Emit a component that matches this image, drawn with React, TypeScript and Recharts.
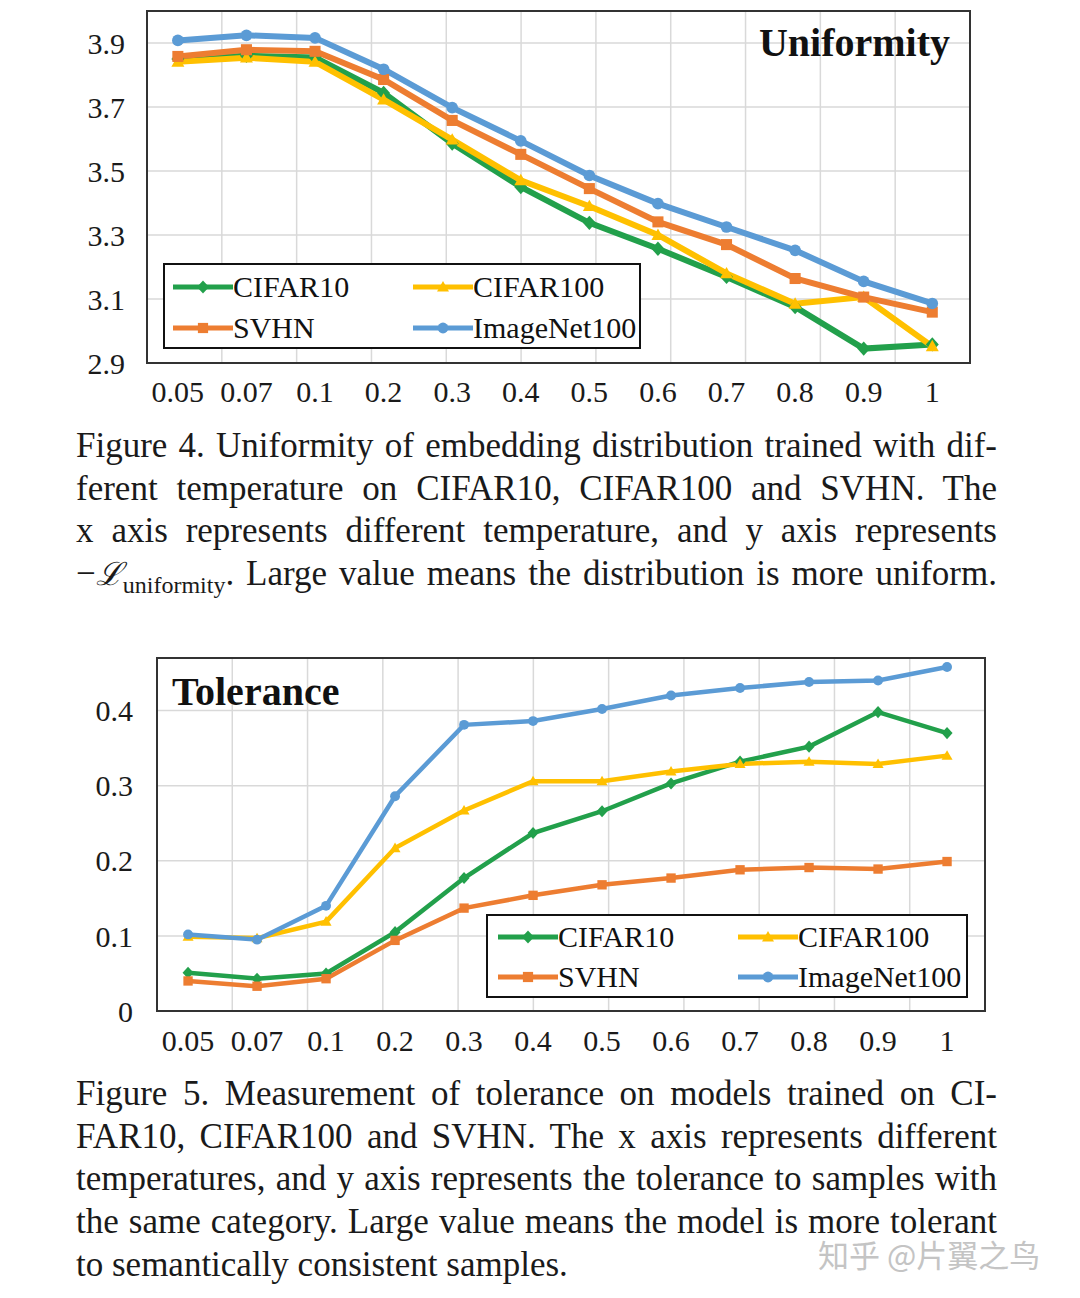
import React from 'react';
import {
  LineChart,
  Line,
  XAxis,
  YAxis,
  CartesianGrid,
  Legend,
  ReferenceArea,
  Customized,
} from 'recharts';

const FONT = '"Liberation Serif", "Times New Roman", Times, serif';

// ---------- data ----------
const temps = ['0.05', '0.07', '0.1', '0.2', '0.3', '0.4', '0.5', '0.6', '0.7', '0.8', '0.9', '1'];

const uniCifar10 = [3.85, 3.86, 3.855, 3.744, 3.586, 3.45, 3.338, 3.257, 3.169, 3.075, 2.945, 2.958];
const uniCifar100 = [3.841, 3.854, 3.841, 3.723, 3.598, 3.471, 3.39, 3.3, 3.18, 3.085, 3.106, 2.952];
const uniSvhn = [3.858, 3.879, 3.874, 3.786, 3.658, 3.552, 3.445, 3.341, 3.27, 3.164, 3.106, 3.059];
const uniImageNet = [3.908, 3.924, 3.916, 3.818, 3.698, 3.594, 3.486, 3.398, 3.325, 3.252, 3.155, 3.086];

const tolCifar10 = [0.051, 0.043, 0.05, 0.105, 0.177, 0.237, 0.266, 0.303, 0.332, 0.352, 0.398, 0.37];
const tolCifar100 = [0.099, 0.097, 0.119, 0.217, 0.267, 0.306, 0.306, 0.319, 0.329, 0.332, 0.329, 0.34];
const tolSvhn = [0.04, 0.033, 0.043, 0.094, 0.137, 0.154, 0.168, 0.177, 0.188, 0.191, 0.189, 0.199];
const tolImageNet = [0.102, 0.095, 0.14, 0.286, 0.381, 0.386, 0.402, 0.42, 0.43, 0.438, 0.44, 0.458];

const uniTicks = [2.9, 3.1, 3.3, 3.5, 3.7, 3.9];
const tolTicks = [0, 0.1, 0.2, 0.3, 0.4];

type MarkerKind = 'diamond' | 'square' | 'triangle' | 'circle';
const SERIES: { key: string; color: string; marker: MarkerKind }[] = [
  { key: 'CIFAR10', color: '#22a04b', marker: 'diamond' },
  { key: 'CIFAR100', color: '#ffc000', marker: 'triangle' },
  { key: 'SVHN', color: '#ed7d31', marker: 'square' },
  { key: 'ImageNet100', color: '#5b9bd5', marker: 'circle' },
];
const LEGEND_ORDER = ['CIFAR10', 'CIFAR100', 'SVHN', 'ImageNet100'];

const buildRows = (c10: number[], c100: number[], svhn: number[], inet: number[]) =>
  temps.map((t, i) => ({
    idx: i,
    temp: t,
    CIFAR10: c10[i],
    CIFAR100: c100[i],
    SVHN: svhn[i],
    ImageNet100: inet[i],
  }));

const uniRows = buildRows(uniCifar10, uniCifar100, uniSvhn, uniImageNet);
const tolRows = buildRows(tolCifar10, tolCifar100, tolSvhn, tolImageNet);

// ---------- markers ----------
function markerShape(kind: MarkerKind, cx: number, cy: number, s: number, color: string) {
  switch (kind) {
    case 'diamond':
      return <path d={`M${cx},${cy - s * 1.1} L${cx + s},${cy} L${cx},${cy + s * 1.1} L${cx - s},${cy} Z`} fill={color} />;
    case 'square':
      return <rect x={cx - s * 0.85} y={cy - s * 0.85} width={s * 1.7} height={s * 1.7} fill={color} />;
    case 'triangle':
      return <path d={`M${cx},${cy - s} L${cx + s},${cy + s * 0.75} L${cx - s},${cy + s * 0.75} Z`} fill={color} />;
    default:
      return <circle cx={cx} cy={cy} r={s * 0.9} fill={color} />;
  }
}

const makeDot = (kind: MarkerKind, color: string, size: number) => (props: any) => {
  const { cx, cy, index } = props;
  if (cx == null || cy == null) return <g key={`e-${index}`} />;
  return <g key={`d-${kind}-${index}`}>{markerShape(kind, cx, cy, size, color)}</g>;
};

// ---------- legend ----------
const makeLegend = (w: number, h: number, rowH: number, padTop: number, padLeft: number) => (props: any) => {
  const payload: any[] = props.payload || [];
  const names = payload.map((p: any) => String(p.value));
  const ordered = LEGEND_ORDER.filter((n) => names.includes(n));
  return (
    <div
      style={{
        width: w,
        height: h,
        boxSizing: 'border-box',
        border: '2px solid #111',
        background: '#fff',
        display: 'grid',
        gridTemplateColumns: '240px 240px',
        gridAutoRows: `${rowH}px`,
        alignItems: 'center',
        paddingTop: padTop,
        paddingLeft: padLeft,
        fontFamily: FONT,
        fontSize: 30,
        color: '#111',
      }}
    >
      {ordered.map((name) => {
        const s = SERIES.find((x) => x.key === name) || SERIES[0];
        return (
          <div key={s.key} style={{ display: 'flex', alignItems: 'center', lineHeight: 1 }}>
            <svg width={60} height={24} style={{ display: 'block' }}>
              <line x1={0} y1={12} x2={60} y2={12} stroke={s.color} strokeWidth={5} />
              {markerShape(s.marker, 30, 12, 6, s.color)}
            </svg>
            <span>{s.key}</span>
          </div>
        );
      })}
    </div>
  );
};

// ---------- chart panel ----------
type PanelProps = {
  rows: any[];
  height: number;
  margin: { top: number; right: number; bottom: number; left: number };
  yDomain: [number, number];
  yTicks: number[];
  yFmt: (v: number) => string;
  xAxisHeight: number;
  xTickMargin: number;
  yTickMargin: number;
  lineWidth: number;
  markSize: number;
  legendPos: { left: number; top: number; width: number; height: number; rowH: number; padTop: number; padLeft: number };
  title: { text: string; x: number; y: number; anchor: 'start' | 'end' };
};

function Panel(p: PanelProps) {
  const tickStyle = { fontSize: 30, fontFamily: FONT, fill: '#1a1a1a' };
  return (
    <LineChart width={1080} height={p.height} data={p.rows} margin={p.margin}>
      <XAxis
        xAxisId="main"
        dataKey="idx"
        type="number"
        domain={[-0.45, 11.55]}
        ticks={temps.map((_, i) => i)}
        tickFormatter={(v: number) => temps[v] ?? ''}
        interval={0}
        allowDataOverflow
        axisLine={false}
        tickLine={false}
        tickSize={0}
        tickMargin={p.xTickMargin}
        height={p.xAxisHeight}
        tick={tickStyle}
      />
      <XAxis
        xAxisId="grid"
        type="number"
        domain={[0, 12]}
        ticks={[1, 2, 3, 4, 5, 6, 7, 8, 9, 10, 11]}
        allowDataOverflow
        height={0}
        hide
      />
      <YAxis
        yAxisId="y"
        type="number"
        domain={p.yDomain}
        ticks={p.yTicks}
        tickFormatter={p.yFmt}
        allowDataOverflow
        axisLine={false}
        tickLine={false}
        tickSize={0}
        tickMargin={p.yTickMargin}
        width={60}
        tick={tickStyle}
      />
      <CartesianGrid xAxisId="grid" yAxisId="y" stroke="#d9d9d9" strokeWidth={1.5} />
      <ReferenceArea
        xAxisId="main"
        yAxisId="y"
        x1={-0.45}
        x2={11.55}
        y1={p.yDomain[0]}
        y2={p.yDomain[1]}
        fill="none"
        fillOpacity={0}
        stroke="#333"
        strokeWidth={2}
        ifOverflow="visible"
      />
      {SERIES.map((s) => (
        <Line
          key={s.key}
          xAxisId="main"
          yAxisId="y"
          type="linear"
          dataKey={s.key}
          name={s.key}
          stroke={s.color}
          strokeWidth={p.lineWidth}
          dot={makeDot(s.marker, s.color, p.markSize)}
          activeDot={false}
          isAnimationActive={false}
        />
      ))}
      <Legend
        layout="vertical"
        align="center"
        verticalAlign="middle"
        itemSorter={null as any}
        content={makeLegend(p.legendPos.width, p.legendPos.height, p.legendPos.rowH, p.legendPos.padTop, p.legendPos.padLeft)}
        wrapperStyle={{
          left: p.legendPos.left,
          top: p.legendPos.top,
          width: p.legendPos.width,
          height: p.legendPos.height,
        }}
      />
      <Customized
        component={() => (
          <text
            x={p.title.x}
            y={p.title.y}
            textAnchor={p.title.anchor}
            fontFamily={FONT}
            fontWeight="bold"
            fontSize={40}
            fill="#111"
          >
            {p.title.text}
          </text>
        )}
      />
    </LineChart>
  );
}

// ---------- captions ----------
const cap4Lines = [
  'Figure 4. Uniformity of embedding distribution trained with dif-',
  'ferent temperature on CIFAR10, CIFAR100 and SVHN. The',
  'x axis represents different temperature, and y axis represents',
];
const cap5Lines = [
  'Figure 5. Measurement of tolerance on models trained on CI-',
  'FAR10, CIFAR100 and SVHN. The x axis represents different',
  'temperatures, and y axis represents the tolerance to samples with',
  'the same category. Large value means the model is more tolerant',
];
const cap5Last = 'to semantically consistent samples.';

const lineStyle = (justify: boolean): React.CSSProperties => ({
  height: 42.7,
  lineHeight: '42.7px',
  whiteSpace: 'nowrap',
  textAlign: justify ? 'justify' : 'left',
  textAlignLast: justify ? 'justify' : 'left',
} as React.CSSProperties);

const captionBox = (top: number): React.CSSProperties => ({
  position: 'absolute',
  left: 76,
  top,
  width: 921,
  fontFamily: FONT,
  fontSize: 35,
  color: '#1a1a1a',
});

export default function App() {
  return (
    <div
      style={{
        position: 'absolute',
        left: 0,
        top: 0,
        width: 1080,
        height: 1298,
        background: '#fff',
        overflow: 'hidden',
      }}
    >
      <div style={{ position: 'absolute', left: 0, top: 0 }}>
        <Panel
          rows={uniRows}
          height={420}
          margin={{ top: 11, right: 110, bottom: 0, left: 87 }}
          yDomain={[2.9, 4.0]}
          yTicks={uniTicks}
          yFmt={(v: number) => v.toFixed(1)}
          xAxisHeight={57}
          xTickMargin={18}
          yTickMargin={22}
          lineWidth={6}
          markSize={6.5}
          legendPos={{ left: 163, top: 263, width: 478, height: 86, rowH: 41, padTop: 1, padLeft: 8 }}
          title={{ text: 'Uniformity', x: 950, y: 56, anchor: 'end' }}
        />
      </div>

      <div style={captionBox(425)}>
        {cap4Lines.map((l) => (
          <div key={l} style={lineStyle(true)}>
            {l}
          </div>
        ))}
        <div style={lineStyle(true)}>
          <span>{'\u2212'}</span>
          <span style={{ fontFamily: '"DejaVu Serif", serif', fontStyle: 'italic', fontSize: 32 }}>{'\u2112'}</span>
          <span style={{ fontSize: 24, position: 'relative', top: 8 }}>uniformity</span>
          <span>. Large value means the distribution is more uniform.</span>
        </div>
      </div>

      <div style={{ position: 'absolute', left: 0, top: 630 }}>
        <Panel
          rows={tolRows}
          height={440}
          margin={{ top: 28, right: 95, bottom: 0, left: 97 }}
          yDomain={[0, 0.47]}
          yTicks={tolTicks}
          yFmt={(v: number) => (v === 0 ? '0' : v.toFixed(1))}
          xAxisHeight={59}
          xTickMargin={19}
          yTickMargin={24}
          lineWidth={4.5}
          markSize={5.5}
          legendPos={{ left: 486, top: 284, width: 482, height: 84, rowH: 40, padTop: 1, padLeft: 10 }}
          title={{ text: 'Tolerance', x: 172, y: 75, anchor: 'start' }}
        />
      </div>

      <div style={captionBox(1073)}>
        {cap5Lines.map((l) => (
          <div key={l} style={lineStyle(true)}>
            {l}
          </div>
        ))}
        <div style={lineStyle(false)}>{cap5Last}</div>
      </div>

      <div
        style={{
          position: 'absolute',
          left: 818,
          top: 1238,
          fontFamily: '"Noto Sans CJK SC", sans-serif',
          fontSize: 31,
          color: '#c4c4c4',
          whiteSpace: 'nowrap',
          lineHeight: '31px',
        }}
      >
        知乎 @片翼之鸟
      </div>
    </div>
  );
}
